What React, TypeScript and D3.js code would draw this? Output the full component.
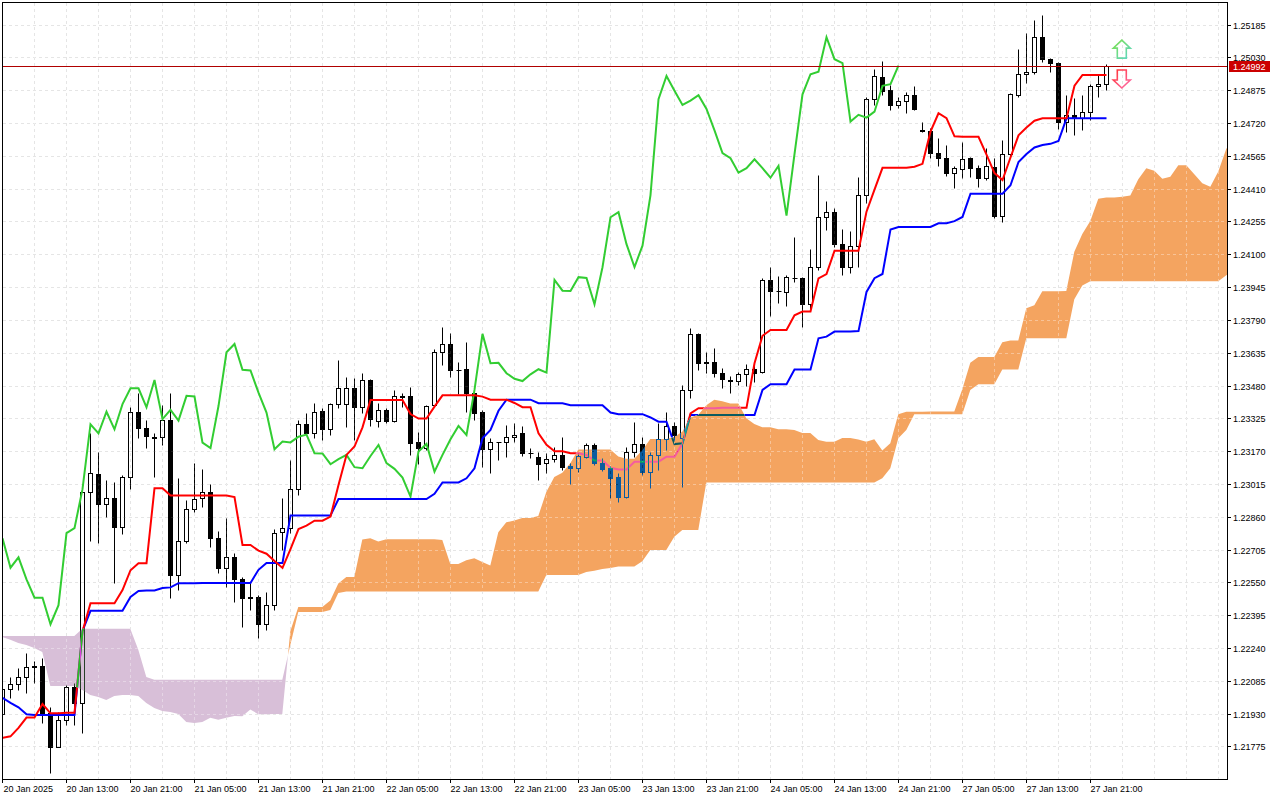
// @ts-nocheck
import { useMemo } from "react";
import * as d3 from "d3";

const W = 1280;
const H = 800;
const plot = { left: 3, top: 3, right: 1227, bottom: 779 };

// bottom axis labels, one every 8 hourly bars
const timeLabels = [
  "20 Jan 2025", "20 Jan 13:00", "20 Jan 21:00", "21 Jan 05:00", "21 Jan 13:00", "21 Jan 21:00",
  "22 Jan 05:00", "22 Jan 13:00", "22 Jan 21:00", "23 Jan 05:00", "23 Jan 13:00", "23 Jan 21:00",
  "24 Jan 05:00", "24 Jan 13:00", "24 Jan 21:00", "27 Jan 05:00", "27 Jan 13:00", "27 Jan 21:00",
];

const priceTicks = [
  1.25185, 1.2503, 1.24875, 1.2472, 1.24565, 1.2441, 1.24255, 1.241, 1.23945, 1.2379, 1.23635, 1.2348,
  1.23325, 1.2317, 1.23015, 1.2286, 1.22705, 1.2255, 1.22395, 1.2224, 1.22085, 1.2193, 1.21775,
];

// hourly OHLC
const opens = [
  1.21928, 1.22045, 1.22068, 1.22101, 1.22151, 1.22155, 1.21931, 1.21773, 1.219, 1.22054,
  1.21979, 1.22979, 1.23061, 1.22919, 1.22947, 1.22813, 1.23048, 1.23355, 1.23278, 1.23238,
  1.23236, 1.23317, 1.22585, 1.22747, 1.22895, 1.22947, 1.22979, 1.22758, 1.22619, 1.22668,
  1.22564, 1.22481, 1.22479, 1.22352, 1.22442, 1.22787, 1.22806, 1.2299, 1.23297, 1.23254,
  1.23361, 1.23273, 1.23392, 1.23392, 1.23467, 1.23377, 1.23506, 1.23313, 1.23365, 1.23314,
  1.23431, 1.23431, 1.23212, 1.23184, 1.23388, 1.2364, 1.23676, 1.23554, 1.23557, 1.23446,
  1.23354, 1.23179, 1.23213, 1.23212, 1.23236, 1.23254, 1.23161, 1.23144, 1.23113, 1.23132,
  1.23152, 1.231, 1.23089, 1.23144, 1.23199, 1.23113, 1.23089, 1.23049, 1.22955, 1.23168,
  1.23204, 1.23073, 1.23152, 1.23226, 1.23289, 1.23231, 1.23459, 1.23724, 1.2359, 1.23593,
  1.23538, 1.23504, 1.235, 1.23533, 1.23557, 1.23543, 1.23979, 1.23928, 1.23924, 1.2399,
  1.2399, 1.23864, 1.24039, 1.24275, 1.24299, 1.24148, 1.2404, 1.24141, 1.2438, 1.24833,
  1.24937, 1.24877, 1.24806, 1.24825, 1.24852, 1.24684, 1.24684, 1.24578, 1.24554, 1.24486,
  1.24502, 1.24554, 1.24507, 1.24462, 1.24514, 1.24283, 1.24573, 1.24853, 1.24951, 1.24963,
  1.25126, 1.25023, 1.25003, 1.24727, 1.24759, 1.24746, 1.24774, 1.24896, 1.24904,
];
const highs = [
  1.22112, 1.22104, 1.22144, 1.22218, 1.2218, 1.22191, 1.21962, 1.21939, 1.22065, 1.22073,
  1.22987, 1.23254, 1.23168, 1.23034, 1.23026, 1.23056, 1.23377, 1.23443, 1.23317, 1.23254,
  1.23388, 1.23446, 1.23042, 1.22939, 1.23113, 1.23084, 1.23015, 1.22793, 1.22856, 1.22687,
  1.22577, 1.22546, 1.2249, 1.22506, 1.22801, 1.2295, 1.23128, 1.23317, 1.23349, 1.23396,
  1.23373, 1.23396, 1.23601, 1.23522, 1.23514, 1.23538, 1.2351, 1.23396, 1.23373, 1.23459,
  1.23443, 1.23475, 1.23262, 1.23388, 1.23651, 1.23758, 1.23727, 1.23593, 1.23687, 1.23475,
  1.23365, 1.23231, 1.23215, 1.23294, 1.23305, 1.23289, 1.23184, 1.23168, 1.23163, 1.23191,
  1.23236, 1.23113, 1.23157, 1.2321, 1.2321, 1.23136, 1.231, 1.23066, 1.23191, 1.23309,
  1.23238, 1.23168, 1.23302, 1.23356, 1.23309, 1.23483, 1.2375, 1.23727, 1.2364, 1.23656,
  1.23561, 1.23525, 1.23546, 1.23582, 1.23593, 1.23987, 1.24042, 1.23998, 1.24002, 1.24181,
  1.23995, 1.24124, 1.24475, 1.24354, 1.24318, 1.24218, 1.24212, 1.24464, 1.24845, 1.24975,
  1.25015, 1.249, 1.24845, 1.24869, 1.24896, 1.24727, 1.24696, 1.24648, 1.24617, 1.24518,
  1.2463, 1.24562, 1.24522, 1.24601, 1.24554, 1.2464, 1.24861, 1.2507, 1.25145, 1.25208,
  1.25231, 1.25026, 1.2501, 1.24853, 1.24838, 1.24853, 1.24904, 1.24948, 1.24998,
];
const lows = [
  1.21909, 1.22002, 1.22041, 1.22026, 1.22073, 1.21884, 1.21648, 1.21772, 1.21876, 1.21876,
  1.21837, 1.22747, 1.22735, 1.2286, 1.22546, 1.22779, 1.22993, 1.23234, 1.23184, 1.23049,
  1.23199, 1.22475, 1.22514, 1.22735, 1.22884, 1.22908, 1.22719, 1.22593, 1.2253, 1.22459,
  1.2234, 1.22419, 1.22286, 1.22325, 1.22419, 1.22703, 1.22782, 1.22963, 1.23246, 1.23231,
  1.23223, 1.23246, 1.23373, 1.23286, 1.23223, 1.23352, 1.23289, 1.23283, 1.23302, 1.23309,
  1.2338, 1.23152, 1.23109, 1.23176, 1.2338, 1.23577, 1.23522, 1.2344, 1.23356, 1.23317,
  1.23097, 1.23068, 1.23128, 1.23144, 1.23215, 1.23147, 1.23136, 1.23034, 1.23066, 1.2312,
  1.23081, 1.23015, 1.23073, 1.23136, 1.23105, 1.23078, 1.22947, 1.22931, 1.22947, 1.23144,
  1.23057, 1.22995, 1.23081, 1.23176, 1.23209, 1.22999, 1.2342, 1.23554, 1.23538, 1.23522,
  1.23467, 1.23443, 1.23483, 1.23478, 1.23498, 1.23538, 1.23809, 1.23872, 1.23856, 1.23971,
  1.23758, 1.23837, 1.24026, 1.24215, 1.24133, 1.24002, 1.24013, 1.2404, 1.24344, 1.24806,
  1.24853, 1.24782, 1.2479, 1.24769, 1.24782, 1.24679, 1.24554, 1.24518, 1.24472, 1.24415,
  1.24462, 1.24467, 1.2442, 1.24451, 1.24272, 1.24254, 1.24562, 1.24845, 1.24908, 1.24951,
  1.25008, 1.2496, 1.24692, 1.24679, 1.24664, 1.24688, 1.24735, 1.24845, 1.24877,
];
const closes = [
  1.22045, 1.22068, 1.22101, 1.22151, 1.22155, 1.21931, 1.21773, 1.219, 1.22054, 1.21979,
  1.22979, 1.23066, 1.22919, 1.22947, 1.22813, 1.23048, 1.23355, 1.23278, 1.23243, 1.23232,
  1.23317, 1.22585, 1.22747, 1.22895, 1.22943, 1.22979, 1.22758, 1.22619, 1.22668, 1.22564,
  1.22477, 1.22477, 1.22352, 1.22442, 1.22782, 1.22806, 1.2299, 1.23297, 1.23254, 1.23356,
  1.23273, 1.23392, 1.23467, 1.23467, 1.23377, 1.23506, 1.23321, 1.23365, 1.23314, 1.23431,
  1.23428, 1.2321, 1.23184, 1.23383, 1.23637, 1.23676, 1.23554, 1.23551, 1.23446, 1.23352,
  1.23179, 1.23215, 1.23211, 1.23238, 1.23248, 1.2316, 1.23159, 1.23108, 1.23132, 1.23152,
  1.23094, 1.23089, 1.23147, 1.23199, 1.23113, 1.23086, 1.23045, 1.22955, 1.23168, 1.23204,
  1.23073, 1.23152, 1.23226, 1.23289, 1.23246, 1.23459, 1.23724, 1.23585, 1.23587, 1.23538,
  1.23512, 1.23501, 1.23533, 1.23557, 1.23541, 1.23979, 1.23928, 1.23927, 1.23992, 1.23988,
  1.23864, 1.24039, 1.24275, 1.24299, 1.24148, 1.2404, 1.24141, 1.2438, 1.24833, 1.24943,
  1.24873, 1.24806, 1.24826, 1.24852, 1.24787, 1.24686, 1.24578, 1.24554, 1.24486, 1.24507,
  1.24549, 1.24507, 1.24462, 1.24518, 1.24283, 1.24573, 1.24856, 1.24951, 1.24963, 1.25126,
  1.25022, 1.25003, 1.24727, 1.24759, 1.24746, 1.24774, 1.24896, 1.24904, 1.24992,
];

// Ichimoku values on the left edge, where the look-back window reaches before the first bar
const tenkanLead = [1.21815, 1.21822, 1.21862, 1.21911, 1.21911, 1.21975, 1.21931, 1.21931];
const kijunLead = [
  1.22004, 1.2198, 1.21959, 1.21926, 1.21923, 1.21923, 1.21923, 1.21923, 1.21923, 1.21923,
  1.2232, 1.22415, 1.22415, 1.22415, 1.22415, 1.22415, 1.22481, 1.22509, 1.22511, 1.22511,
  1.22523, 1.22526, 1.22546, 1.22546, 1.22546,
];
const spanALead = [
  1.22292, 1.22278, 1.22263, 1.22254, 1.2224, 1.22221, 1.2206, 1.2206, 1.2206, 1.2206,
  1.22041, 1.22018, 1.22008, 1.21994, 1.22013, 1.22018, 1.22018, 1.22013, 1.2198, 1.21956,
  1.21942, 1.21937, 1.21928, 1.2189, 1.21885, 1.2189,
];
const spanBLead = [
  1.22296, 1.22296, 1.22296, 1.22296, 1.22296, 1.22296, 1.22296, 1.22296, 1.22296, 1.22296,
  1.2233, 1.2233, 1.2233, 1.2233, 1.2233, 1.2233, 1.2233, 1.22231, 1.22103, 1.22089,
  1.22089, 1.22089, 1.22089, 1.22089, 1.22089, 1.22089, 1.22089, 1.22089, 1.22089, 1.22089,
  1.22089, 1.22089, 1.22089, 1.22089, 1.22089, 1.22089, 1.22254, 1.2241, 1.2241, 1.2241,
  1.2241, 1.22419, 1.225, 1.22506, 1.22506, 1.22506, 1.22506, 1.22506, 1.22506, 1.22506,
  1.22506, 1.22506, 1.22506, 1.22506, 1.22506, 1.22506, 1.22506, 1.22506, 1.22506, 1.22506,
  1.22506, 1.22506, 1.22506, 1.22506, 1.22506, 1.22506, 1.22506, 1.22506, 1.22585, 1.22585,
  1.22585, 1.22585, 1.22585, 1.22599, 1.22604, 1.22613, 1.22618,
];

const lastPrice = 1.24992;
const signals = [
  { bar: 140, price: 1.25112, dir: "up" },
  { bar: 140, price: 1.24886, dir: "down" },
];

// line colour, and its inverse used where the line crosses the cloud
const lineStyles = [
  { key: "chikou", color: "#32cd32", inverse: "#cd32cd" },
  { key: "kijun", color: "#0000ff", inverse: "#ffff00" },
  { key: "tenkan", color: "#ff0000", inverse: "#00ffff" },
];

const font = "'Liberation Sans', Arial, sans-serif";

function IchimokuChart() {
  const x = d3.scaleLinear().domain([0, 153]).range([2.3, 1226.3]);
  const y = d3.scaleLinear().domain([1.21775, 1.25185]).range([746.3, 24.7]);
  const px = (i) => Math.round(x(i)) + 0.5;
  const py = (v) => Math.round(y(v)) + 0.5;

  const ind = useMemo(() => {
    const n = closes.length;
    const mid = (a, b) => (d3.max(highs.slice(a, b + 1)) + d3.min(lows.slice(a, b + 1))) / 2;
    const tenkan = closes.map((_, i) => (i < 8 ? tenkanLead[i] : mid(i - 8, i)));
    const kijun = closes.map((_, i) => (i < 25 ? kijunLead[i] : mid(i - 25, i)));
    const chikou = closes.slice(26);
    const spanA = d3.range(n + 26).map((i) => (i < 26 ? spanALead[i] : (tenkan[i - 26] + kijun[i - 26]) / 2));
    const spanB = d3.range(n + 26).map((i) => (i < 77 ? spanBLead[i] : mid(i - 77, i - 26)));
    // add the crossing points so each colour stops exactly where the spans meet
    const cloud = [];
    for (let i = 0; i < spanA.length; i++) {
      cloud.push({ t: i, a: spanA[i], b: spanB[i] });
      if (i + 1 < spanA.length) {
        const d0 = spanA[i] - spanB[i];
        const d1 = spanA[i + 1] - spanB[i + 1];
        if (d0 * d1 < 0) {
          const f = d0 / (d0 - d1);
          const v = spanA[i] + f * (spanA[i + 1] - spanA[i]);
          cloud.push({ t: i + f, a: v, b: v });
        }
      }
    }
    return { tenkan, kijun, chikou, cloud };
  }, []);

  const line = d3.line().x((_, i) => px(i)).y((v) => y(v));
  const upCloud = d3.area().x((d) => x(d.t)).y0((d) => y(d.b)).y1((d) => y(Math.max(d.a, d.b)))(ind.cloud);
  const downCloud = d3.area().x((d) => x(d.t)).y0((d) => y(d.a)).y1((d) => y(Math.max(d.a, d.b)))(ind.cloud);

  const gridX = d3.range(0, 153, 4);
  const blend = { mixBlendMode: "difference" };

  const grid = (stroke, opacity) => (
    <g stroke={stroke} strokeOpacity={opacity} strokeDasharray="3,3" strokeWidth={1}>
      {priceTicks.map((p) => (
        <line key={"h" + p} x1={plot.left} x2={plot.right} y1={py(p)} y2={py(p)} />
      ))}
      {gridX.map((i) => (
        <line key={"v" + i} x1={px(i)} x2={px(i)} y1={plot.top} y2={plot.bottom} />
      ))}
    </g>
  );

  const candles = closes.map((c, i) => {
    const cx = px(i);
    const o = opens[i];
    const top = py(Math.max(o, c));
    const bot = py(Math.min(o, c));
    const bear = c < o;
    return (
      <g key={i}>
        <line x1={cx} x2={cx} y1={py(highs[i])} y2={top} />
        <line x1={cx} x2={cx} y1={bot} y2={py(lows[i])} />
        {bot - top < 1 ? (
          <line x1={cx - 2} x2={cx + 3} y1={top} y2={top} />
        ) : (
          <rect x={cx - 2} y={top} width={4} height={bot - top} fill={bear ? "#fff" : "none"} />
        )}
      </g>
    );
  });

  const arrow = (s, k) => {
    const cx = x(s.bar) - 0.5;
    const t = y(s.price);
    const d = s.dir === "up" ? 1 : -1;
    const pts = [
      [cx, t], [cx + 8.5, t + 8 * d], [cx + 4.5, t + 8 * d], [cx + 4.5, t + 18 * d],
      [cx - 4.5, t + 18 * d], [cx - 4.5, t + 8 * d], [cx - 8.5, t + 8 * d],
    ];
    return (
      <path key={k} d={"M" + pts.map((p) => p.join(",")).join("L") + "Z"} fill="none"
        stroke={s.dir === "up" ? "url(#gUp)" : "url(#gDown)"} strokeWidth={1.6} />
    );
  };

  return (
    <svg width={W} height={H} style={{ position: "absolute", left: 0, top: 0 }} fontFamily={font}>
      <defs>
        <clipPath id="plotClip">
          <rect x={plot.left} y={plot.top} width={plot.right - plot.left} height={plot.bottom - plot.top} />
        </clipPath>
        <clipPath id="cloudClip">
          <path d={upCloud} />
          <path d={downCloud} />
        </clipPath>
        <mask id="noCloud" maskUnits="userSpaceOnUse" x={0} y={0} width={W} height={H}>
          <rect width={W} height={H} fill="#fff" />
          <path d={upCloud} fill="#000" />
          <path d={downCloud} fill="#000" />
        </mask>
        <linearGradient id="gUp" x1="0" y1="0" x2="1" y2="1">
          <stop offset="0" stopColor="#7be04a" />
          <stop offset="1" stopColor="#5fd6c8" />
        </linearGradient>
        <linearGradient id="gDown" x1="0" y1="0" x2="1" y2="1">
          <stop offset="0" stopColor="#ff3030" />
          <stop offset="1" stopColor="#ff70b0" />
        </linearGradient>
      </defs>
      <rect width={W} height={H} fill="#fff" />
      <g clipPath="url(#plotClip)">
        {/* the clipped group is its own backdrop, so it needs its own white ground for the blend */}
        <rect x={plot.left} y={plot.top} width={plot.right - plot.left} height={plot.bottom - plot.top} fill="#fff" />
        {grid("#d8d8d8", 1)}
        <path d={downCloud} fill="#d8bfd8" />
        <path d={upCloud} fill="#f4a460" />
        {grid("#fff", 0.35)}
        <g style={blend} stroke="#fff" strokeWidth={1}>
          {candles}
        </g>
        {lineStyles.map((s) => (
          <path key={s.key} d={line(ind[s.key])} fill="none" stroke={s.color} strokeWidth={2} mask="url(#noCloud)" />
        ))}
        {lineStyles.map((s) => (
          <path key={s.key + "x"} d={line(ind[s.key])} fill="none" stroke={s.inverse} strokeWidth={2}
            clipPath="url(#cloudClip)" style={blend} />
        ))}
        <line x1={plot.left} x2={plot.right} y1={py(lastPrice)} y2={py(lastPrice)} stroke="#b00000" />
        {signals.map(arrow)}
      </g>
      <rect x={2.5} y={2.5} width={plot.right - 2} height={plot.bottom - 2} fill="none" stroke="#000" />
      <g fontSize={9} fill="#000">
        {priceTicks.map((p) => (
          <g key={p}>
            <line x1={plot.right} x2={plot.right + 4} y1={py(p)} y2={py(p)} stroke="#000" />
            <text x={1233} y={py(p)} dy="0.35em">{p.toFixed(5)}</text>
          </g>
        ))}
        {timeLabels.map((t, k) => (
          <g key={t}>
            <line x1={px(k * 8)} x2={px(k * 8)} y1={plot.bottom} y2={plot.bottom + 4} stroke="#000" />
            <text x={px(k * 8) + (k === 0 ? 1 : 0)} y={792}>{t}</text>
          </g>
        ))}
      </g>
      <rect x={1229} y={py(lastPrice) - 5.5} width={41} height={11} fill="#cc0000" />
      <text x={1233} y={py(lastPrice)} dy="0.35em" fontSize={9} fill="#fff">{lastPrice.toFixed(5)}</text>
    </svg>
  );
}

export default function App() {
  return <IchimokuChart />;
}
